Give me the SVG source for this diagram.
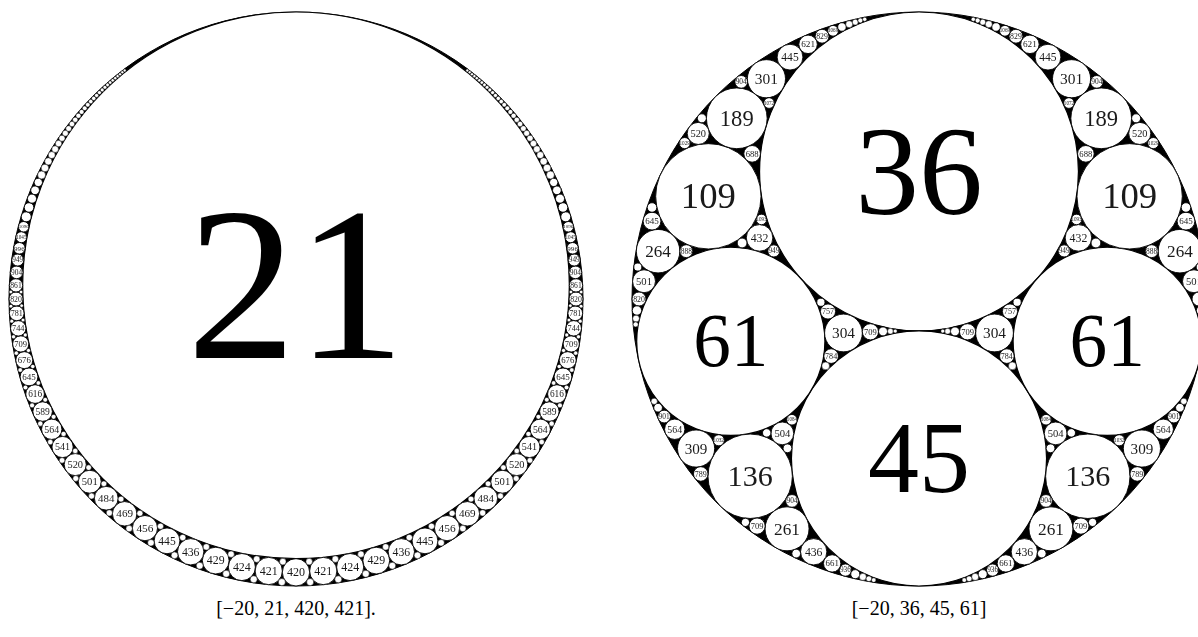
<svg xmlns="http://www.w3.org/2000/svg" xmlns:xlink="http://www.w3.org/1999/xlink" width="1198" height="637" viewBox="0 0 1198 637">
<defs>
<filter id="gray" x="0" y="0" width="1" height="1"><feOffset dx="0" dy="0"/></filter>
</defs>
<style>
.bg{fill:#000;stroke:#000;stroke-width:1}
.big{fill:#fff;stroke:#000;stroke-width:1.2}
.c{fill:#fff;stroke:#000;stroke-width:0.9}
.s{fill:#fff;stroke:#000;stroke-width:0.5}
text{font-family:"Liberation Serif","Times New Roman",serif;text-anchor:middle;fill:#000}
.lab{filter:url(#gray)}
.lab text{fill:#1a1a1a}
</style>
<rect width="1198" height="637" fill="#fff"/>
<g id="gasket-left">
<circle class="bg" cx="296" cy="299" r="287"/>
<circle class="big" cx="296" cy="285.33" r="273.33"/>
<circle class="c" cx="296" cy="572.33" r="13.67"/>
<g id="left-half">
<circle class="c" cx="268.73" cy="571.00" r="13.63"/>
<circle class="c" cx="241.85" cy="567.05" r="13.54"/>
<circle class="c" cx="215.72" cy="560.58" r="13.38"/>
<circle class="c" cx="190.68" cy="551.77" r="13.17"/>
<circle class="c" cx="167.01" cy="540.85" r="12.90"/>
<circle class="c" cx="144.95" cy="528.10" r="12.59"/>
<circle class="c" cx="124.66" cy="513.79" r="12.24"/>
<circle class="c" cx="106.25" cy="498.24" r="11.86"/>
<circle class="c" cx="89.77" cy="481.74" r="11.46"/>
<circle class="c" cx="75.23" cy="464.58" r="11.04"/>
<circle class="c" cx="62.58" cy="447.01" r="10.61"/>
<circle class="c" cx="51.74" cy="429.27" r="10.18"/>
<circle class="c" cx="42.62" cy="411.56" r="9.75"/>
<circle class="c" cx="35.09" cy="394.05" r="9.32"/>
<circle class="c" cx="29.02" cy="376.87" r="8.90"/>
<circle class="c" cx="24.28" cy="360.14" r="8.49"/>
<circle class="c" cx="20.74" cy="343.93" r="8.10"/>
<circle class="c" cx="18.26" cy="328.32" r="7.72"/>
<circle class="c" cx="16.72" cy="313.33" r="7.35"/>
<circle class="c" cx="16.00" cy="299.00" r="7.00"/>
<circle class="c" cx="16.00" cy="285.33" r="6.67"/>
<circle class="c" cx="16.62" cy="272.33" r="6.35"/>
<circle class="c" cx="17.77" cy="259.99" r="6.05"/>
<circle class="c" cx="19.37" cy="248.28" r="5.76"/>
<circle class="c" cx="21.36" cy="237.21" r="5.49"/>
<circle class="c" cx="23.66" cy="226.73" r="5.24"/>
<circle class="c" cx="26.24" cy="216.82" r="5.00"/>
<circle class="c" cx="29.02" cy="207.47" r="4.77"/>
<circle class="c" cx="31.99" cy="198.63" r="4.55"/>
<circle class="c" cx="35.09" cy="190.29" r="4.35"/>
<circle class="c" cx="38.30" cy="182.41" r="4.16"/>
<circle class="s" cx="41.60" cy="174.98" r="3.98"/>
<circle class="s" cx="44.95" cy="167.96" r="3.80"/>
<circle class="s" cx="48.33" cy="161.33" r="3.64"/>
<circle class="s" cx="51.74" cy="155.06" r="3.49"/>
<circle class="s" cx="55.16" cy="149.14" r="3.35"/>
<circle class="s" cx="58.57" cy="143.55" r="3.21"/>
<circle class="s" cx="61.97" cy="138.26" r="3.08"/>
<circle class="s" cx="65.34" cy="133.25" r="2.96"/>
<circle class="s" cx="68.67" cy="128.51" r="2.84"/>
<circle class="s" cx="71.97" cy="124.01" r="2.73"/>
<circle class="s" cx="75.23" cy="119.76" r="2.63"/>
<circle class="s" cx="78.44" cy="115.72" r="2.53"/>
<circle class="s" cx="81.60" cy="111.89" r="2.44"/>
<circle class="s" cx="84.71" cy="108.25" r="2.35"/>
<circle class="s" cx="87.77" cy="104.80" r="2.26"/>
<circle class="s" cx="90.77" cy="101.52" r="2.18"/>
<circle class="s" cx="93.71" cy="98.39" r="2.11"/>
<circle class="s" cx="96.60" cy="95.42" r="2.03"/>
<circle class="s" cx="99.42" cy="92.60" r="1.97"/>
<circle class="s" cx="102.20" cy="89.90" r="1.90"/>
<circle class="s" cx="104.91" cy="87.33" r="1.84"/>
<circle class="s" cx="107.57" cy="84.88" r="1.78"/>
<circle class="s" cx="110.17" cy="82.55" r="1.72"/>
<circle class="s" cx="112.72" cy="80.31" r="1.67"/>
<circle class="s" cx="115.21" cy="78.18" r="1.61"/>
<circle class="s" cx="117.65" cy="76.14" r="1.56"/>
<circle class="s" cx="120.04" cy="74.19" r="1.52"/>
<circle class="s" cx="122.37" cy="72.33" r="1.47"/>
<circle class="s" cx="124.66" cy="70.54" r="1.43"/>
<circle class="s" cx="281.84" cy="582.10" r="3.54"/>
<circle class="s" cx="253.72" cy="579.31" r="3.52"/>
<circle class="s" cx="226.21" cy="573.79" r="3.49"/>
<circle class="s" cx="199.70" cy="565.71" r="3.44"/>
<circle class="s" cx="174.52" cy="555.29" r="3.37"/>
<circle class="s" cx="150.93" cy="542.81" r="3.30"/>
<circle class="s" cx="129.16" cy="528.57" r="3.21"/>
<circle class="s" cx="109.33" cy="512.89" r="3.11"/>
<circle class="s" cx="91.54" cy="496.10" r="3.01"/>
<circle class="s" cx="75.79" cy="478.50" r="2.90"/>
<circle class="s" cx="62.05" cy="460.39" r="2.79"/>
<circle class="s" cx="50.27" cy="442.03" r="2.67"/>
<circle class="s" cx="40.32" cy="423.64" r="2.56"/>
<circle class="s" cx="32.09" cy="405.42" r="2.44"/>
<circle class="s" cx="25.44" cy="387.51" r="2.33"/>
<circle class="s" cx="20.23" cy="370.05" r="2.22"/>
<circle class="s" cx="16.31" cy="353.14" r="2.12"/>
<circle class="s" cx="13.54" cy="336.83" r="2.02"/>
<circle class="s" cx="11.78" cy="321.18" r="1.92"/>
<circle class="s" cx="10.92" cy="306.22" r="1.83"/>
<circle class="s" cx="10.83" cy="291.96" r="1.74"/>
<circle class="s" cx="282.83" cy="561.64" r="3.29"/>
<circle class="s" cx="256.68" cy="559.13" r="3.28"/>
<circle class="s" cx="231.07" cy="554.18" r="3.25"/>
<circle class="s" cx="206.31" cy="546.92" r="3.20"/>
<circle class="s" cx="182.71" cy="537.54" r="3.15"/>
<circle class="s" cx="160.51" cy="526.26" r="3.08"/>
<circle class="s" cx="139.89" cy="513.35" r="3.00"/>
<circle class="s" cx="121.00" cy="499.08" r="2.92"/>
<circle class="s" cx="103.91" cy="483.74" r="2.82"/>
<circle class="s" cx="88.66" cy="467.60" r="2.73"/>
<circle class="s" cx="75.23" cy="450.91" r="2.63"/>
<circle class="s" cx="63.57" cy="433.91" r="2.53"/>
<circle class="s" cx="53.60" cy="416.81" r="2.42"/>
<circle class="s" cx="45.22" cy="399.78" r="2.32"/>
<circle class="s" cx="38.32" cy="382.97" r="2.22"/>
<circle class="s" cx="32.78" cy="366.50" r="2.12"/>
<circle class="s" cx="28.46" cy="350.48" r="2.03"/>
<circle class="s" cx="25.25" cy="334.97" r="1.93"/>
<circle class="s" cx="23.02" cy="320.03" r="1.84"/>
<circle class="s" cx="21.66" cy="305.68" r="1.76"/>
<circle class="s" cx="21.07" cy="291.96" r="1.68"/>
</g>
<use xlink:href="#left-half" href="#left-half" transform="matrix(-1 0 0 1 592 0)"/>
<g id="left-labels" class="lab">
<text x="296" y="357.5" font-size="218.7" style="fill:#000">21</text>
<text x="296" y="576.30" font-size="12.04">420</text>
<text x="268.73" y="574.96" font-size="12.01">421</text>
<text x="323.27" y="574.96" font-size="12.01">421</text>
<text x="241.85" y="570.99" font-size="11.96">424</text>
<text x="350.15" y="570.99" font-size="11.96">424</text>
<text x="215.72" y="564.49" font-size="11.86">429</text>
<text x="376.28" y="564.49" font-size="11.86">429</text>
<text x="190.68" y="555.64" font-size="11.72">436</text>
<text x="401.32" y="555.64" font-size="11.72">436</text>
<text x="167.01" y="544.66" font-size="11.55">445</text>
<text x="424.99" y="544.66" font-size="11.55">445</text>
<text x="144.95" y="531.85" font-size="11.36">456</text>
<text x="447.05" y="531.85" font-size="11.36">456</text>
<text x="124.66" y="517.47" font-size="11.14">469</text>
<text x="467.34" y="517.47" font-size="11.14">469</text>
<text x="106.25" y="501.84" font-size="10.90">484</text>
<text x="485.75" y="501.84" font-size="10.90">484</text>
<text x="89.77" y="485.25" font-size="10.64">501</text>
<text x="502.23" y="485.25" font-size="10.64">501</text>
<text x="75.23" y="468.01" font-size="10.38">520</text>
<text x="516.77" y="468.01" font-size="10.38">520</text>
<text x="62.58" y="450.35" font-size="10.11">541</text>
<text x="529.42" y="450.35" font-size="10.11">541</text>
<text x="51.74" y="432.51" font-size="9.83">564</text>
<text x="540.26" y="432.51" font-size="9.83">564</text>
<text x="42.62" y="414.72" font-size="9.56">589</text>
<text x="549.38" y="414.72" font-size="9.56">589</text>
<text x="35.09" y="397.12" font-size="9.29">616</text>
<text x="556.91" y="397.12" font-size="9.29">616</text>
<text x="29.02" y="379.85" font-size="9.02">645</text>
<text x="562.98" y="379.85" font-size="9.02">645</text>
<text x="24.28" y="363.03" font-size="8.77">676</text>
<text x="567.72" y="363.03" font-size="8.77">676</text>
<text x="20.74" y="346.74" font-size="8.52">709</text>
<text x="571.26" y="346.74" font-size="8.52">709</text>
<text x="18.26" y="331.05" font-size="8.28">744</text>
<text x="573.74" y="331.05" font-size="8.28">744</text>
<text x="16.72" y="315.99" font-size="8.05">781</text>
<text x="575.28" y="315.99" font-size="8.05">781</text>
<text x="16.00" y="301.58" font-size="7.82">820</text>
<text x="576.00" y="301.58" font-size="7.82">820</text>
<text x="16.00" y="287.84" font-size="7.62">861</text>
<text x="576.00" y="287.84" font-size="7.62">861</text>
<text x="16.62" y="274.78" font-size="7.41">904</text>
<text x="575.38" y="274.78" font-size="7.41">904</text>
<text x="17.77" y="262.37" font-size="7.22">949</text>
<text x="574.23" y="262.37" font-size="7.22">949</text>
<text x="19.37" y="250.60" font-size="7.04">996</text>
<text x="572.63" y="250.60" font-size="7.04">996</text>
<text x="21.36" y="238.91" font-size="5.15">1045</text>
<text x="570.64" y="238.91" font-size="5.15">1045</text>
<text x="23.66" y="228.39" font-size="5.03">1096</text>
<text x="568.34" y="228.39" font-size="5.03">1096</text>
</g>
</g>
<g id="gasket-right">
<circle class="bg" cx="919" cy="299" r="287"/>
<circle class="big" cx="919" cy="171.44" r="159.44"/>
<circle class="big" cx="919" cy="458.44" r="127.56"/>
<g id="right-half">
<circle class="big" cx="730.80" cy="341.34" r="94.10"/>
<circle class="c" cx="708.36" cy="196.31" r="52.66"/>
<circle class="c" cx="736.78" cy="118.30" r="30.37"/>
<circle class="c" cx="658.09" cy="251.17" r="21.74"/>
<circle class="c" cx="759.56" cy="237.88" r="13.29"/>
<circle class="c" cx="766.44" cy="78.74" r="19.07"/>
<circle class="c" cx="698.23" cy="133.42" r="11.04"/>
<circle class="c" cx="752.14" cy="153.83" r="8.34"/>
<circle class="c" cx="644.03" cy="281.24" r="11.46"/>
<circle class="c" cx="652.02" cy="221.13" r="8.90"/>
<circle class="c" cx="686.30" cy="251.17" r="6.46"/>
<circle class="c" cx="773.84" cy="250.91" r="6.05"/>
<circle class="c" cx="761.45" cy="219.44" r="5.25"/>
<circle class="c" cx="742.08" cy="242.98" r="4.91"/>
<circle class="c" cx="790.01" cy="57.15" r="12.90"/>
<circle class="c" cx="741.21" cy="81.85" r="6.35"/>
<circle class="c" cx="769.07" cy="103.03" r="5.35"/>
<circle class="c" cx="808.08" cy="44.35" r="9.24"/>
<circle class="c" cx="822.06" cy="36.23" r="6.92"/>
<circle class="c" cx="833.09" cy="30.79" r="5.37"/>
<circle class="c" cx="841.95" cy="26.98" r="4.28"/>
<circle class="s" cx="849.21" cy="24.21" r="3.49"/>
<circle class="s" cx="855.25" cy="22.14" r="2.90"/>
<circle class="s" cx="860.35" cy="20.55" r="2.44"/>
<circle class="s" cx="864.71" cy="19.31" r="2.09"/>
<circle class="c" cx="639.00" cy="299.00" r="7.00"/>
<circle class="c" cx="636.94" cy="310.52" r="4.70"/>
<circle class="s" cx="636.04" cy="318.54" r="3.37"/>
<circle class="s" cx="635.67" cy="324.42" r="2.53"/>
<circle class="c" cx="750.18" cy="476.26" r="42.21"/>
<circle class="c" cx="696.09" cy="448.54" r="18.58"/>
<circle class="c" cx="674.74" cy="429.27" r="10.18"/>
<circle class="c" cx="664.17" cy="416.54" r="6.37"/>
<circle class="c" cx="658.09" cy="407.71" r="4.35"/>
<circle class="s" cx="654.22" cy="401.29" r="3.15"/>
<circle class="c" cx="787.05" cy="528.82" r="21.99"/>
<circle class="c" cx="813.68" cy="551.77" r="13.17"/>
<circle class="c" cx="832.16" cy="563.42" r="8.68"/>
<circle class="c" cx="845.41" cy="570.06" r="6.13"/>
<circle class="c" cx="855.27" cy="574.16" r="4.55"/>
<circle class="s" cx="862.86" cy="576.88" r="3.51"/>
<circle class="s" cx="868.87" cy="578.76" r="2.79"/>
<circle class="s" cx="873.73" cy="580.11" r="2.26"/>
<circle class="c" cx="782.33" cy="433.39" r="11.39"/>
<circle class="c" cx="757.08" cy="526.09" r="8.10"/>
<circle class="c" cx="792.01" cy="500.92" r="6.35"/>
<circle class="c" cx="700.75" cy="473.96" r="7.28"/>
<circle class="c" cx="718.77" cy="440.28" r="5.56"/>
<circle class="c" cx="791.92" cy="419.73" r="5.30"/>
<circle class="c" cx="787.45" cy="448.31" r="4.38"/>
<circle class="c" cx="766.72" cy="432.88" r="4.23"/>
<circle class="c" cx="796.22" cy="553.55" r="4.38"/>
<circle class="c" cx="745.44" cy="522.36" r="4.13"/>
<circle class="c" cx="684.71" cy="143.09" r="5.58"/>
<circle class="c" cx="652.02" cy="207.47" r="4.77"/>
<circle class="c" cx="701.88" cy="118.30" r="4.52"/>
<circle class="c" cx="637.82" cy="267.07" r="4.02"/>
<circle class="c" cx="843.47" cy="332.99" r="18.88"/>
<circle class="c" cx="870.42" cy="331.79" r="8.10"/>
<circle class="c" cx="883.01" cy="331.39" r="4.50"/>
<circle class="s" cx="890.37" cy="331.21" r="2.86"/>
<circle class="s" cx="895.22" cy="331.11" r="1.98"/>
<circle class="c" cx="828.01" cy="311.51" r="7.58"/>
<circle class="c" cx="831.14" cy="356.11" r="7.32"/>
<circle class="c" cx="820.88" cy="302.27" r="4.09"/>
<circle class="s" cx="825.67" cy="365.89" r="3.89"/>
</g>
<use xlink:href="#right-half" href="#right-half" transform="matrix(-1 0 0 1 1838 0)"/>
<g id="right-labels" class="lab">
<text x="919" y="213.5" font-size="127.6" style="fill:#000">36</text>
<text x="919" y="492.1" font-size="102" style="fill:#000">45</text>
<text x="730.80" y="366.2" font-size="75.3" style="fill:#000">61</text>
<text x="1107.20" y="366.2" font-size="75.3" style="fill:#000">61</text>
<text x="708.36" y="208.41" font-size="36.68">109</text>
<text x="1129.64" y="208.41" font-size="36.68">109</text>
<text x="736.78" y="125.75" font-size="22.59">189</text>
<text x="1101.22" y="125.75" font-size="22.59">189</text>
<text x="658.09" y="256.83" font-size="17.14">264</text>
<text x="1179.91" y="256.83" font-size="17.14">264</text>
<text x="759.56" y="241.77" font-size="11.80">432</text>
<text x="1078.44" y="241.77" font-size="11.80">432</text>
<text x="766.44" y="83.84" font-size="15.45">301</text>
<text x="1071.56" y="83.84" font-size="15.45">301</text>
<text x="698.23" y="136.85" font-size="10.38">520</text>
<text x="1139.77" y="136.85" font-size="10.38">520</text>
<text x="752.14" y="156.69" font-size="8.67">688</text>
<text x="1085.86" y="156.69" font-size="8.67">688</text>
<text x="644.03" y="284.75" font-size="10.64">501</text>
<text x="1193.97" y="284.75" font-size="10.64">501</text>
<text x="652.02" y="224.11" font-size="9.02">645</text>
<text x="1185.98" y="224.11" font-size="9.02">645</text>
<text x="686.30" y="253.64" font-size="7.48">888</text>
<text x="1151.70" y="253.64" font-size="7.48">888</text>
<text x="773.84" y="253.29" font-size="7.22">949</text>
<text x="1064.16" y="253.29" font-size="7.22">949</text>
<text x="790.01" y="60.96" font-size="11.55">445</text>
<text x="1047.99" y="60.96" font-size="11.55">445</text>
<text x="741.21" y="84.30" font-size="7.41">904</text>
<text x="1096.79" y="84.30" font-size="7.41">904</text>
<text x="808.08" y="47.40" font-size="9.24">621</text>
<text x="1029.92" y="47.40" font-size="9.24">621</text>
<text x="822.06" y="38.79" font-size="7.77">829</text>
<text x="1015.94" y="38.79" font-size="7.77">829</text>
<text x="639.00" y="301.58" font-size="7.82">820</text>
<text x="750.18" y="486.19" font-size="30.08">136</text>
<text x="1087.82" y="486.19" font-size="30.08">136</text>
<text x="696.09" y="453.54" font-size="15.14">309</text>
<text x="1141.91" y="453.54" font-size="15.14">309</text>
<text x="674.74" y="432.51" font-size="9.83">564</text>
<text x="1163.26" y="432.51" font-size="9.83">564</text>
<text x="664.17" y="418.99" font-size="7.43">901</text>
<text x="1173.83" y="418.99" font-size="7.43">901</text>
<text x="787.05" y="534.53" font-size="17.30">261</text>
<text x="1050.95" y="534.53" font-size="17.30">261</text>
<text x="813.68" y="555.64" font-size="11.72">436</text>
<text x="1024.32" y="555.64" font-size="11.72">436</text>
<text x="832.16" y="566.35" font-size="8.89">661</text>
<text x="1005.84" y="566.35" font-size="8.89">661</text>
<text x="845.41" y="572.46" font-size="7.27">936</text>
<text x="992.59" y="572.46" font-size="7.27">936</text>
<text x="782.33" y="436.89" font-size="10.60">504</text>
<text x="1055.67" y="436.89" font-size="10.60">504</text>
<text x="757.08" y="528.90" font-size="8.52">709</text>
<text x="1080.92" y="528.90" font-size="8.52">709</text>
<text x="792.01" y="503.37" font-size="7.41">904</text>
<text x="1045.99" y="503.37" font-size="7.41">904</text>
<text x="700.75" y="476.60" font-size="8.00">789</text>
<text x="1137.25" y="476.60" font-size="8.00">789</text>
<text x="843.47" y="338.05" font-size="15.33">304</text>
<text x="994.53" y="338.05" font-size="15.33">304</text>
<text x="870.42" y="334.60" font-size="8.52">709</text>
<text x="967.58" y="334.60" font-size="8.52">709</text>
<text x="828.01" y="314.21" font-size="8.19">757</text>
<text x="1009.99" y="314.21" font-size="8.19">757</text>
<text x="831.14" y="358.76" font-size="8.03">784</text>
<text x="1006.86" y="358.76" font-size="8.03">784</text>
<text x="684.71" y="144.81" font-size="5.2">1029</text>
<text x="1153.29" y="144.81" font-size="5.2">1029</text>
<text x="718.77" y="441.99" font-size="5.19">1032</text>
<text x="1119.23" y="441.99" font-size="5.19">1032</text>
<text x="833.09" y="32.47" font-size="5.10">1069</text>
<text x="1004.91" y="32.47" font-size="5.10">1069</text>
<text x="769.07" y="104.71" font-size="5.09">1072</text>
<text x="1068.93" y="104.71" font-size="5.09">1072</text>
<text x="791.92" y="421.40" font-size="5.06">1084</text>
<text x="1046.08" y="421.40" font-size="5.06">1084</text>
<text x="761.45" y="221.10" font-size="5.04">1093</text>
<text x="1076.55" y="221.10" font-size="5.04">1093</text>
</g>
</g>
<g id="captions">
<text x="296" y="615" font-size="20">[−20, 21, 420, 421].</text>
<text x="919" y="615" font-size="20">[−20, 36, 45, 61]</text>
</g>
</svg>
